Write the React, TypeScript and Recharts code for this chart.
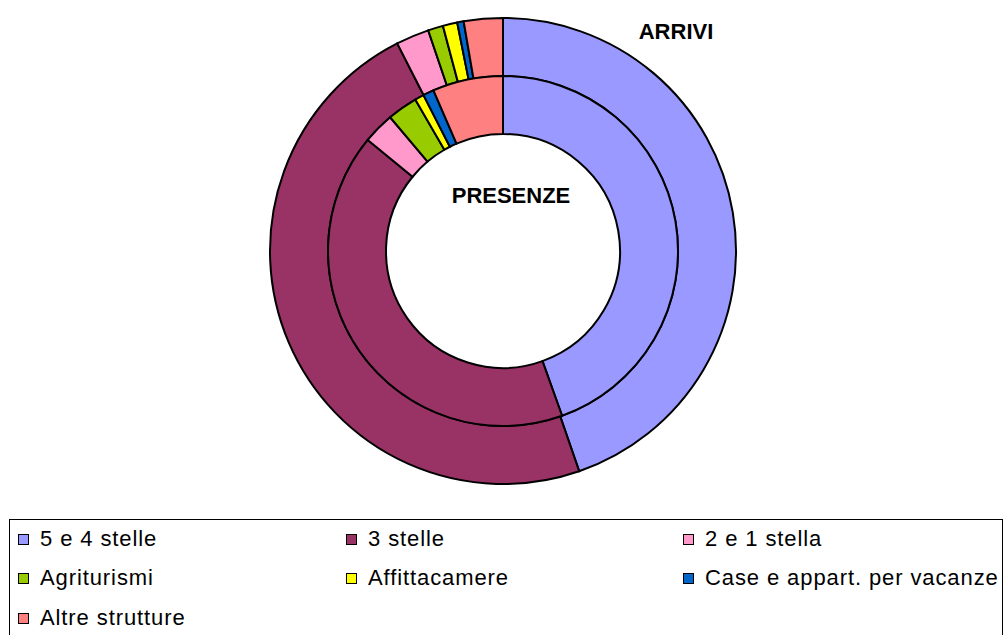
import React from 'react';
import { PieChart, Pie, Cell } from 'recharts';

const categories = [
  '5 e 4 stelle',
  '3 stelle',
  '2 e 1 stella',
  'Agriturismi',
  'Affittacamere',
  'Case e appart. per vacanze',
  'Altre strutture'
];

// quote percentuali
const arrivi = [44.7, 47.8, 2.3, 1.05, 1.0, 0.45, 2.7];
const presenze = [44.5, 41.4, 2.9, 2.8, 0.85, 1.0, 6.5];

const colors = ['#9999FF', '#993366', '#FF99CC', '#99CC00', '#FFFF00', '#0066CC', '#FF8080'];

const arriviData = categories.map((name, i) => ({ name, value: arrivi[i] }));
const presenzeData = categories.map((name, i) => ({ name, value: presenze[i] }));

const font = '"Liberation Sans", Arial, sans-serif';

const legendCols = [18, 346, 683];
const legendRows = [539, 578, 618];

const Legenda = () => (
  <>
    <div
      style={{
        position: 'absolute',
        left: 9,
        top: 519,
        width: 994,
        height: 140,
        border: '1px solid #000',
        boxSizing: 'border-box'
      }}
    />
    {categories.map((name, i) => {
      const col = i % 3;
      const row = Math.floor(i / 3);
      return (
        <div
          key={name}
          style={{
            position: 'absolute',
            left: legendCols[col],
            top: legendRows[row] - 13,
            height: 26,
            display: 'flex',
            alignItems: 'center',
            fontFamily: font,
            fontSize: 22,
            letterSpacing: 0.9,
            color: '#000',
            whiteSpace: 'nowrap'
          }}
        >
          <span
            style={{
              display: 'inline-block',
              width: 11,
              height: 11,
              background: colors[i],
              border: '1px solid #000',
              boxSizing: 'border-box',
              marginRight: 11
            }}
          />
          {name}
        </div>
      );
    })}
  </>
);

export default function App() {
  return (
    <div
      style={{
        position: 'absolute',
        left: 0,
        top: 0,
        width: 1006,
        height: 635,
        background: '#fff',
        overflow: 'hidden'
      }}
    >
      <PieChart width={1006} height={510} margin={{ top: 0, right: 0, bottom: 0, left: 0 }}>
        <Pie
          data={arriviData}
          dataKey="value"
          nameKey="name"
          cx={503}
          cy={251}
          innerRadius={175}
          outerRadius={233}
          startAngle={90}
          endAngle={-270}
          stroke="#000"
          strokeWidth={2}
          isAnimationActive={false}
        >
          {arriviData.map((d, i) => (
            <Cell key={d.name} fill={colors[i]} />
          ))}
        </Pie>
        <Pie
          data={presenzeData}
          dataKey="value"
          nameKey="name"
          cx={503}
          cy={251}
          innerRadius={117}
          outerRadius={175}
          startAngle={90}
          endAngle={-270}
          stroke="#000"
          strokeWidth={2}
          isAnimationActive={false}
        >
          {presenzeData.map((d, i) => (
            <Cell key={d.name} fill={colors[i]} />
          ))}
        </Pie>
      </PieChart>
      <div
        style={{
          position: 'absolute',
          left: 576,
          top: 18,
          width: 200,
          textAlign: 'center',
          fontFamily: font,
          fontWeight: 'bold',
          fontSize: 22,
          lineHeight: '28px'
        }}
      >
        ARRIVI
      </div>
      <div
        style={{
          position: 'absolute',
          left: 411,
          top: 182,
          width: 200,
          textAlign: 'center',
          fontFamily: font,
          fontWeight: 'bold',
          fontSize: 22,
          lineHeight: '28px'
        }}
      >
        PRESENZE
      </div>
      <Legenda />
    </div>
  );
}
